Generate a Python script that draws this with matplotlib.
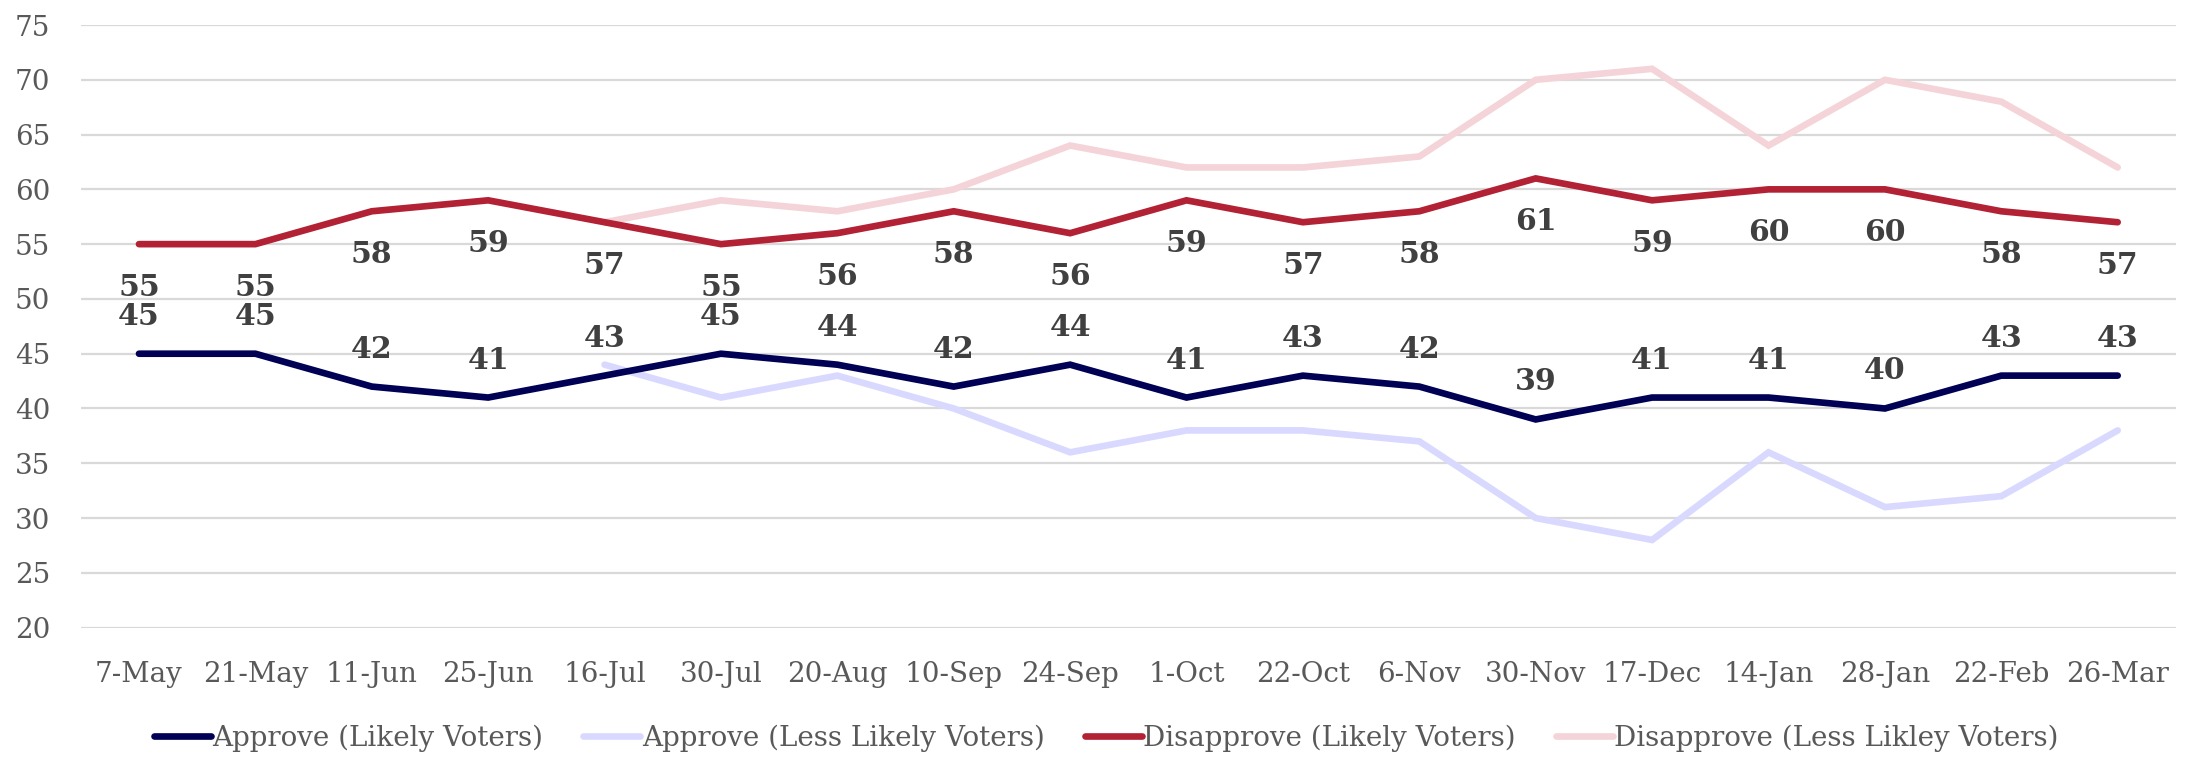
import numpy as np
import matplotlib
matplotlib.use("Agg")
import matplotlib.pyplot as plt

dates = ["7-May", "21-May", "11-Jun", "25-Jun", "16-Jul", "30-Jul", "20-Aug", "10-Sep", "24-Sep",
         "1-Oct", "22-Oct", "6-Nov", "30-Nov", "17-Dec", "14-Jan", "28-Jan", "22-Feb", "26-Mar"]
approve_likely = [45, 45, 42, 41, 43, 45, 44, 42, 44, 41, 43, 42, 39, 41, 41, 40, 43, 43]
approve_less = [np.nan, np.nan, np.nan, np.nan, 44, 41, 43, 40, 36, 38, 38, 37, 30, 28, 36, 31, 32, 38]
disapprove_likely = [55, 55, 58, 59, 57, 55, 56, 58, 56, 59, 57, 58, 61, 59, 60, 60, 58, 57]
disapprove_less = [np.nan, np.nan, np.nan, np.nan, 57, 59, 58, 60, 64, 62, 62, 63, 70, 71, 64, 70, 68, 62]
series_names = ["Approve (Likely Voters)", "Approve (Less Likely Voters)",
                "Disapprove (Likely Voters)", "Disapprove (Less Likley Voters)"]
y_ticks = [20, 25, 30, 35, 40, 45, 50, 55, 60, 65, 70, 75]

FONT = ["DejaVu Serif", "Liberation Serif"]
plt.rcParams["font.family"] = FONT

fig = plt.figure(figsize=(21.95, 7.58), dpi=100)
ax = fig.add_axes([0.0368, 0.172, 0.9545, 0.795])

x = np.arange(len(dates))
lw = 4.8
kw = dict(lw=lw, solid_capstyle="round", solid_joinstyle="miter")
h2, = ax.plot(x, approve_less, color="#d9d9ff", zorder=2, **kw)
h4, = ax.plot(x, disapprove_less, color="#f4d4d8", zorder=2, **kw)
h1, = ax.plot(x, approve_likely, color="#000055", zorder=3, **kw)
h3, = ax.plot(x, disapprove_likely, color="#b22234", zorder=3, **kw)

for xi, v in zip(x, approve_likely):
    ax.annotate(str(v), (xi, v), xytext=(0, 27), textcoords="offset points",
                ha="center", va="center", fontsize=21.5, fontweight="bold", color="#404040", zorder=4)
for xi, v in zip(x, disapprove_likely):
    ax.annotate(str(v), (xi, v), xytext=(0, -31), textcoords="offset points",
                ha="center", va="center", fontsize=21.5, fontweight="bold", color="#404040", zorder=4)

ax.set_xlim(-0.5, len(dates) - 0.5)
ax.set_ylim(20, 75)
ax.set_yticks(y_ticks)
ax.set_xticks(x)
ax.set_xticklabels(dates)
ax.tick_params(axis="both", length=0, labelsize=20, labelcolor="#595959")
ax.tick_params(axis="x", pad=24)
ax.tick_params(axis="y", pad=22)
ax.grid(axis="y", color="#d9d9d9", lw=1.6, zorder=0)
ax.set_axisbelow(True)
for s in ax.spines.values():
    s.set_visible(False)

leg = fig.legend([h1, h2, h3, h4], series_names, loc="center", bbox_to_anchor=(0.504, 0.026),
                 ncol=4, frameon=False, fontsize=20, handlelength=2.05, handletextpad=0.05,
                 columnspacing=1.45, labelcolor="#595959")

fig.savefig("out.png", dpi=100)
